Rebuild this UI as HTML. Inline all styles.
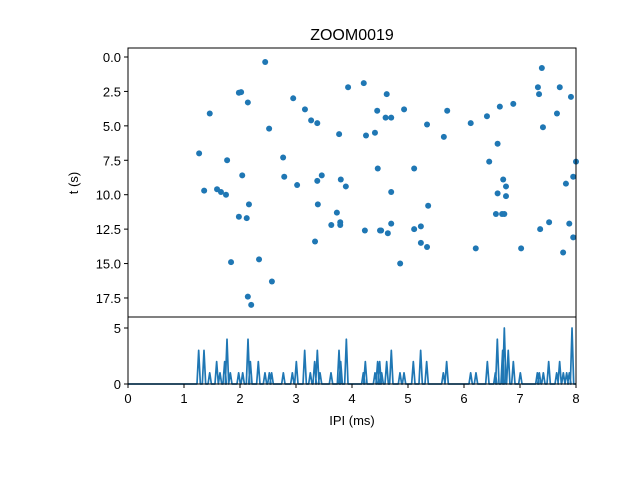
<!DOCTYPE html>
<html><head><meta charset="utf-8"><style>
body{margin:0;background:#fff;}
svg{font-family:"Liberation Sans","DejaVu Sans",sans-serif;}
</style></head><body>
<svg id="c" width="640" height="480" viewBox="0 0 640 480">
<rect width="640" height="480" fill="#fff"/>
<text x="352" y="40" font-size="16" text-anchor="middle">ZOOM0019</text>
<text transform="translate(78,183) rotate(-90)" font-size="13" text-anchor="middle">t (s)</text>
<text x="352" y="425" font-size="13" text-anchor="middle">IPI (ms)</text>
<g id="topg"></g>
<g id="botg"></g>
</svg>
<script>
const scatterX=[2.45,1.98,2.02,2.14,1.46,2.95,3.16,3.27,3.38,2.52,3.93,4.21,3.77,4.25,4.41,4.45,1.27,1.77,2.77,2.04,2.79,3.46,3.38,3.80,3.89,3.02,4.46,1.36,1.59,1.66,1.75,2.16,3.39,1.98,2.12,3.73,3.63,3.79,3.79,4.23,4.50,3.34,2.34,1.84,2.57,2.14,2.20,
7.39,7.32,7.71,7.34,7.91,4.62,4.60,4.70,4.93,5.70,5.34,5.64,6.12,6.41,6.64,6.88,7.66,7.41,6.60,6.45,8.00,5.11,6.70,6.75,6.60,6.75,7.95,7.82,4.70,5.36,6.57,6.68,6.72,7.52,7.88,7.36,7.95,4.70,4.52,4.64,5.11,5.23,5.23,5.34,6.21,7.02,7.77,4.86];
const scatterT=[0.36,2.6,2.55,3.3,4.1,3.0,3.8,4.6,4.8,5.2,2.2,1.9,5.6,5.7,5.5,3.9,7.0,7.5,7.3,8.6,8.7,8.6,9.0,8.9,9.4,9.3,8.1,9.7,9.6,9.8,10.0,10.7,10.7,11.6,11.7,11.3,12.2,12.0,12.2,12.6,12.6,13.4,14.7,14.9,16.3,17.4,18.0,
0.8,2.2,2.2,2.7,2.9,2.7,4.4,4.4,3.8,3.9,4.9,5.8,4.8,4.3,3.6,3.4,4.1,5.1,6.3,7.6,7.6,8.1,8.9,9.4,9.9,10.1,8.7,9.2,9.8,10.8,11.4,11.4,11.4,12.0,12.1,12.5,13.1,12.1,12.6,12.8,12.5,12.3,13.5,13.8,13.9,13.9,14.2,15.0];
const histX=[1.262,1.357,1.459,1.583,1.643,1.726,1.768,1.827,1.976,2.048,2.143,2.185,2.327,2.446,2.524,2.565,2.774,2.935,3.006,3.155,3.256,3.333,3.381,3.429,3.625,3.768,3.798,3.899,4.202,4.238,4.411,4.458,4.494,4.530,4.619,4.702,4.857,4.929,5.095,5.226,5.333,5.631,5.690,6.119,6.214,6.417,6.560,6.595,6.690,6.720,6.790,6.881,7.006,7.310,7.345,7.417,7.512,7.655,7.708,7.774,7.833,7.881,7.929];
const histV=[3,3,1,2,1,2,4,1,1,1,4,2,2,1,1,1,1,1,2,3,1,2,3,1,1,3,2,4,1,2,1,2,2,1,2,3,1,1,2,3,2,1,2,1,1,2,1,4,3,5,3,2,1,1,1,1,2,1,2,1,1,1,5];
const xTicks=[0,1,2,3,4,5,6,7,8];
const tTicks=[0,2.5,5,7.5,10,12.5,15,17.5];
const hTicks=[0,5];
const NS="http://www.w3.org/2000/svg";
const L=128,R=576,T=48,M=317,B=384;
const xs=v=>L+v*(R-L)/8;
const ts=v=>57+v*13.77;
const hs=v=>B-v*11.2;
function mk(tag,attrs,parent){const e=document.createElementNS(NS,tag);for(const k in attrs)e.setAttribute(k,attrs[k]);parent.appendChild(e);return e;}
const topG=document.getElementById('topg'),botG=document.getElementById('botg');
scatterX.forEach((x,i)=>{
 const c=mk('circle',{cx:xs(x),cy:ts(scatterT[i]),r:3,fill:'#1f77b4'},topG);
 
 
});
const idx=histX.map((x,i)=>i).sort((a,b)=>histX[a]-histX[b]);
let pts=[[xs(0),hs(0)]];const w=0.03;
idx.forEach(i=>{pts.push([xs(histX[i]-w),hs(0)]);pts.push([xs(histX[i]),hs(histV[i])]);pts.push([xs(histX[i]+w),hs(0)]);});
pts.push([xs(8),hs(0)]);
const pl=mk('polyline',{points:pts.map(p=>p.join(',')).join(' '),fill:'none',stroke:'#1f77b4','stroke-width':1.7,'stroke-linejoin':'round'},botG);


const f1=mk('rect',{x:L,y:T,width:R-L,height:M-T,fill:'none',stroke:'#000','stroke-width':1},topG);


const f2=mk('rect',{x:L,y:M,width:R-L,height:B-M,fill:'none',stroke:'#000','stroke-width':1},botG);


xTicks.forEach(v=>{
 mk('line',{x1:xs(v),x2:xs(v),y1:B,y2:B+4,stroke:'#000'},botG);
 const t=mk('text',{x:xs(v),y:B+19,'font-size':13,'text-anchor':'middle'},botG);t.textContent=v;
 
 
});
tTicks.forEach(v=>{
 mk('line',{x1:L-4,x2:L,y1:ts(v),y2:ts(v),stroke:'#000'},topG);
 const t=mk('text',{x:L-7,y:ts(v)+5,'font-size':13,'text-anchor':'end'},topG);t.textContent=v.toFixed(1);
 
 
});
hTicks.forEach(v=>{
 mk('line',{x1:L-4,x2:L,y1:hs(v),y2:hs(v),stroke:'#000'},botG);
 const t=mk('text',{x:L-7,y:hs(v)+5,'font-size':13,'text-anchor':'end'},botG);t.textContent=v;
 
 
});
</script>
</body></html>
